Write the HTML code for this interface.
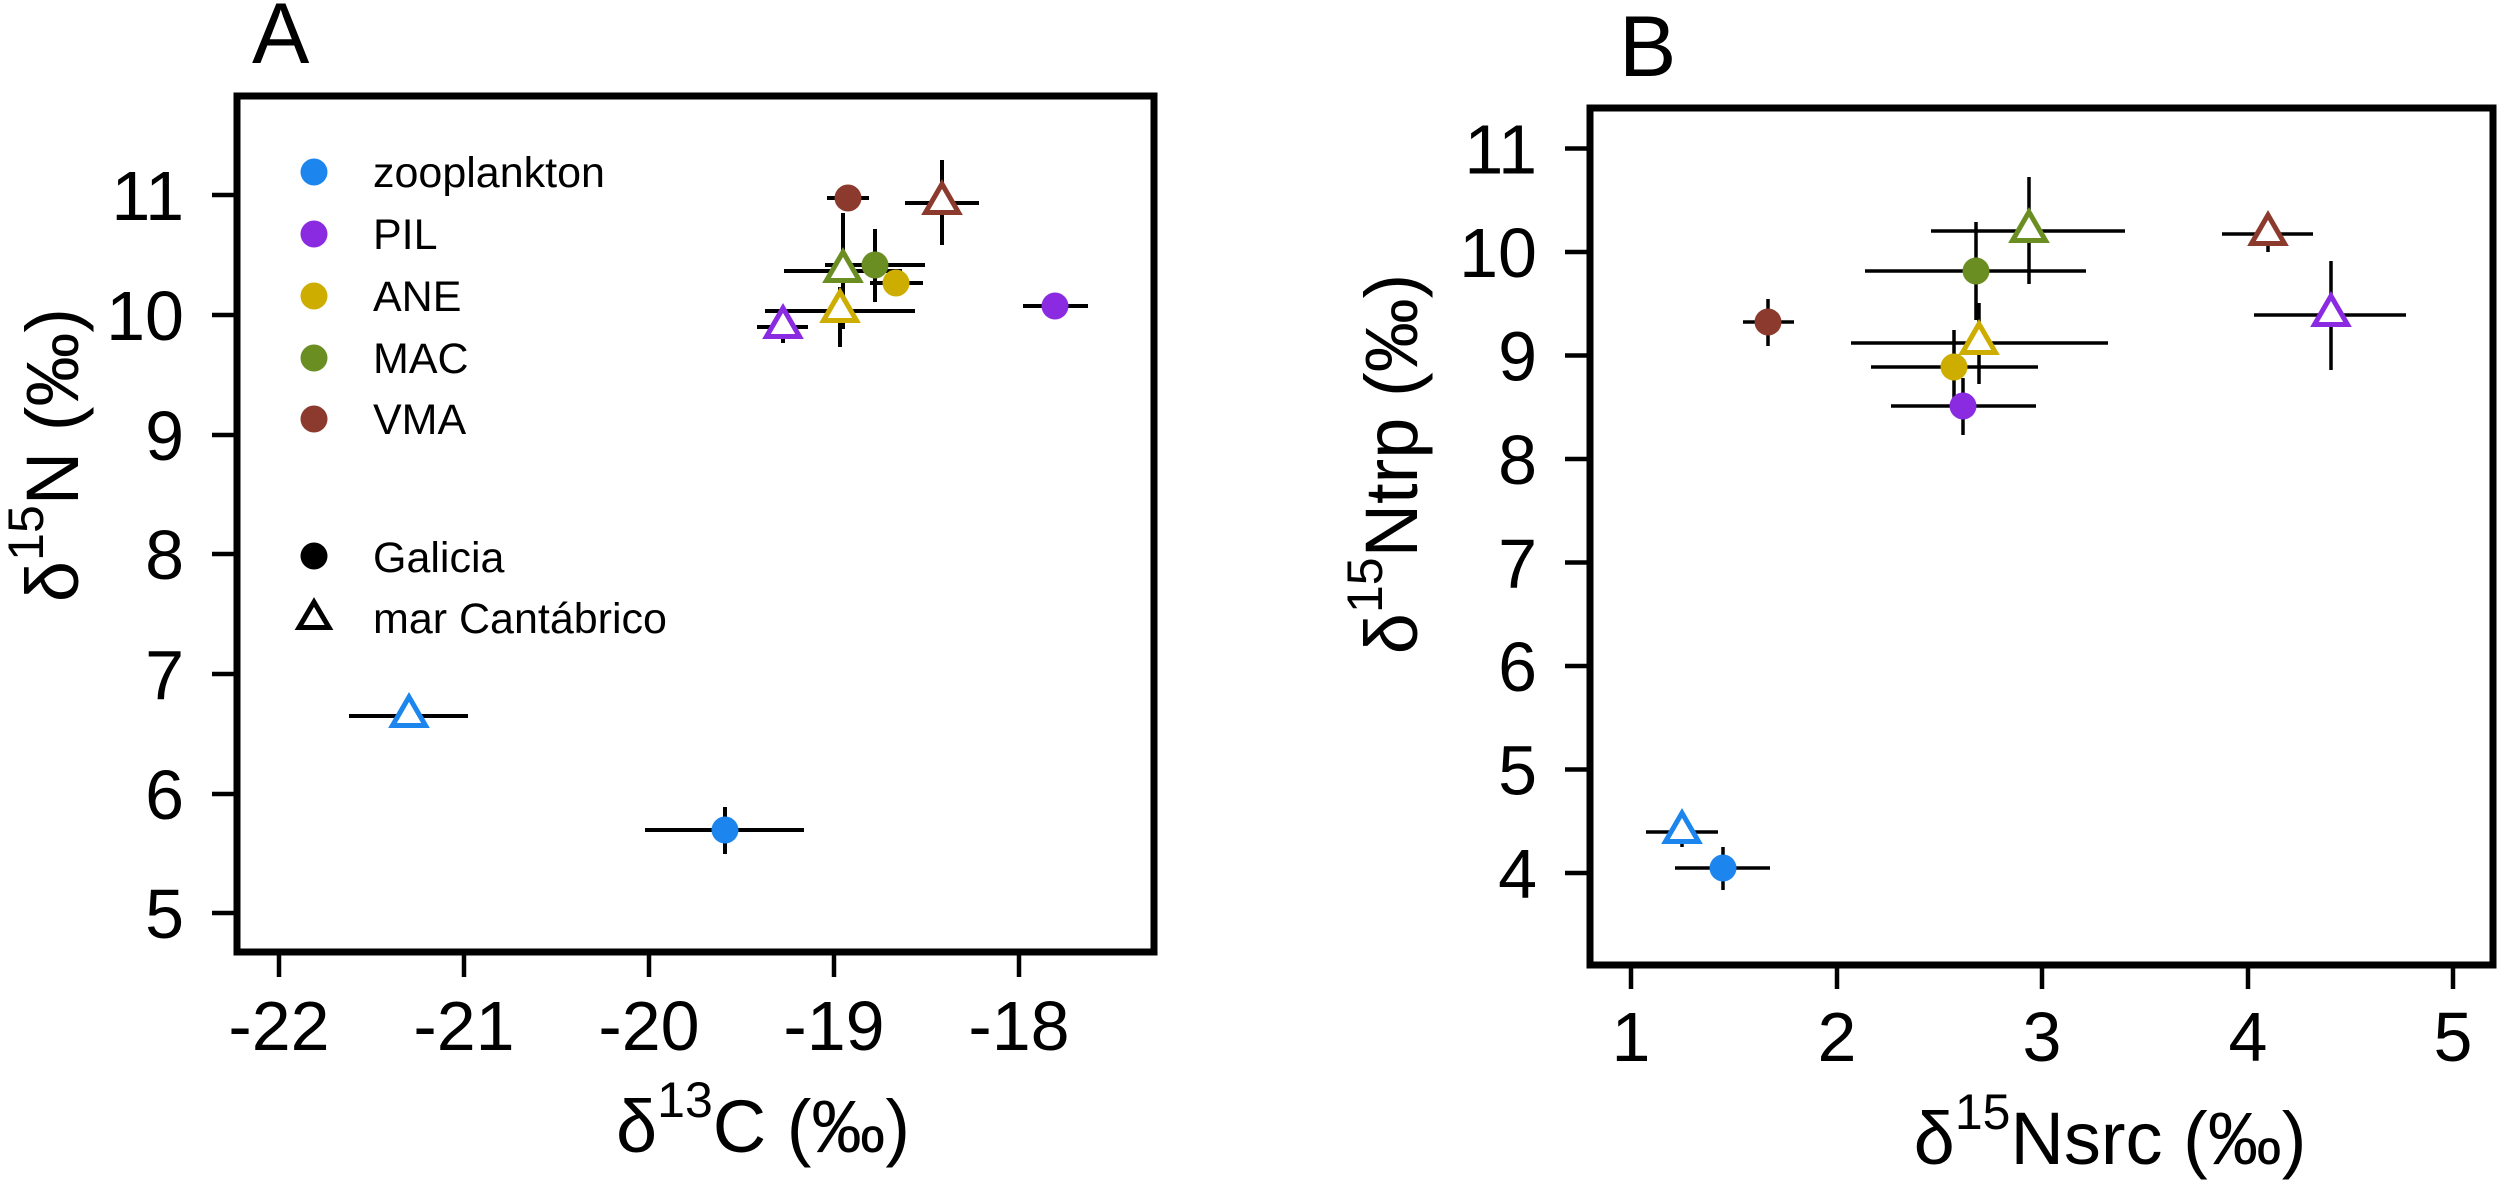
<!DOCTYPE html>
<html>
<head>
<meta charset="utf-8">
<style>
html,body{margin:0;padding:0;background:#fff;}
svg{display:block;}
text{font-family:"Liberation Sans",Arial,sans-serif;fill:#000;}
</style>
</head>
<body>
<svg width="2500" height="1182" viewBox="0 0 2500 1182" xmlns="http://www.w3.org/2000/svg">
<rect width="2500" height="1182" fill="#fff"/>

<!-- ================= PANEL A ================= -->
<text x="252" y="63" font-size="86">A</text>

<!-- ticks A -->
<g stroke="#000" stroke-width="4.5" fill="none">
  <line x1="279" y1="952" x2="279" y2="977"/>
  <line x1="464" y1="952" x2="464" y2="977"/>
  <line x1="649" y1="952" x2="649" y2="977"/>
  <line x1="834" y1="952" x2="834" y2="977"/>
  <line x1="1019" y1="952" x2="1019" y2="977"/>
  <line x1="212" y1="195" x2="237" y2="195"/>
  <line x1="212" y1="315" x2="237" y2="315"/>
  <line x1="212" y1="435" x2="237" y2="435"/>
  <line x1="212" y1="554" x2="237" y2="554"/>
  <line x1="212" y1="674" x2="237" y2="674"/>
  <line x1="212" y1="794" x2="237" y2="794"/>
  <line x1="212" y1="913" x2="237" y2="913"/>
</g>
<g font-size="70" text-anchor="middle">
  <text x="279" y="1050">-22</text>
  <text x="464" y="1050">-21</text>
  <text x="649" y="1050">-20</text>
  <text x="834" y="1050">-19</text>
  <text x="1019" y="1050">-18</text>
</g>
<g font-size="70" text-anchor="end">
  <text x="184" y="220">11</text>
  <text x="184" y="340">10</text>
  <text x="184" y="460">9</text>
  <text x="184" y="579">8</text>
  <text x="184" y="699">7</text>
  <text x="184" y="819">6</text>
  <text x="184" y="938">5</text>
</g>

<!-- axis labels A -->
<text x="763" y="1152" font-size="74" text-anchor="middle">δ<tspan font-size="50" dy="-35">13</tspan><tspan dy="35">C (‰)</tspan></text>
<text transform="translate(78,455) rotate(-90)" font-size="74" text-anchor="middle">δ<tspan font-size="50" dy="-35">15</tspan><tspan dy="35">N (‰)</tspan></text>

<!-- legend A -->
<g>
  <circle cx="314" cy="172" r="13.5" fill="#1C86EE"/>
  <circle cx="314" cy="234" r="13.5" fill="#8A2BE2"/>
  <circle cx="314" cy="296" r="13.5" fill="#CDAD00"/>
  <circle cx="314" cy="358" r="13.5" fill="#6B8E23"/>
  <circle cx="314" cy="419" r="13.5" fill="#8B3A2D"/>
  <circle cx="314" cy="556" r="13.5" fill="#000"/>
  <polygon points="314,602 329,627.5 299,627.5" fill="#fff" stroke="#000" stroke-width="5"/>
</g>
<g font-size="43">
  <text x="373" y="187">zooplankton</text>
  <text x="373" y="249">PIL</text>
  <text x="373" y="311">ANE</text>
  <text x="373" y="373">MAC</text>
  <text x="373" y="434">VMA</text>
  <text x="373" y="572">Galicia</text>
  <text x="373" y="633">mar Cantábrico</text>
</g>

<!-- error bars A -->
<g stroke="#000" stroke-width="4" fill="none">
  <!-- zoo Gal -->
  <line x1="645" y1="830" x2="804" y2="830"/><line x1="725" y1="807" x2="725" y2="854"/>
  <!-- zoo Cant -->
  <line x1="349" y1="716" x2="468" y2="716"/>
  <!-- PIL Gal -->
  <line x1="1023" y1="306" x2="1088" y2="306"/>
  <!-- PIL Cant -->
  <line x1="757" y1="327" x2="808" y2="327"/><line x1="783" y1="311" x2="783" y2="343"/>
  <!-- ANE Gal -->
  <line x1="870" y1="283" x2="923" y2="283"/>
  <!-- ANE Cant -->
  <line x1="765" y1="311" x2="915" y2="311"/><line x1="840" y1="287" x2="840" y2="347"/>
  <!-- MAC Gal -->
  <line x1="825" y1="265" x2="925" y2="265"/><line x1="875" y1="229" x2="875" y2="302"/>
  <!-- MAC Cant -->
  <line x1="784" y1="271" x2="902" y2="271"/><line x1="843" y1="213" x2="843" y2="329"/>
  <!-- VMA Gal -->
  <line x1="827" y1="198" x2="869" y2="198"/>
  <!-- VMA Cant -->
  <line x1="905" y1="203" x2="979" y2="203"/><line x1="942" y1="160" x2="942" y2="245"/>
</g>

<!-- points A -->
<g stroke-width="5" fill="#fff" stroke-linejoin="miter">
  <polygon points="409,697 425.5,725.5 392.5,725.5" stroke="#1C86EE"/>
  <polygon points="783,308 799.5,336.5 766.5,336.5" stroke="#8A2BE2"/>
  <polygon points="840,292 856.5,320.5 823.5,320.5" stroke="#CDAD00"/>
  <polygon points="843,252 859.5,280.5 826.5,280.5" stroke="#6B8E23"/>
  <polygon points="942,184 958.5,212.5 925.5,212.5" stroke="#8B3A2D"/>
</g>
<g>
  <circle cx="725" cy="830" r="13.5" fill="#1C86EE"/>
  <circle cx="1055" cy="306" r="13.5" fill="#8A2BE2"/>
  <circle cx="896" cy="283" r="13.5" fill="#CDAD00"/>
  <circle cx="875" cy="265" r="13.5" fill="#6B8E23"/>
  <circle cx="848" cy="198" r="13.5" fill="#8B3A2D"/>
</g>

<!-- box A -->
<rect x="237" y="96" width="917" height="856" fill="none" stroke="#000" stroke-width="7" stroke-linejoin="miter"/>

<!-- ================= PANEL B ================= -->
<text x="1619" y="76" font-size="86">B</text>

<g stroke="#000" stroke-width="4.5" fill="none">
  <line x1="1631" y1="965" x2="1631" y2="989"/>
  <line x1="1837" y1="965" x2="1837" y2="989"/>
  <line x1="2042" y1="965" x2="2042" y2="989"/>
  <line x1="2248" y1="965" x2="2248" y2="989"/>
  <line x1="2453" y1="965" x2="2453" y2="989"/>
  <line x1="1565" y1="148.5" x2="1590" y2="148.5"/>
  <line x1="1565" y1="252" x2="1590" y2="252"/>
  <line x1="1565" y1="355.5" x2="1590" y2="355.5"/>
  <line x1="1565" y1="459" x2="1590" y2="459"/>
  <line x1="1565" y1="562.5" x2="1590" y2="562.5"/>
  <line x1="1565" y1="666" x2="1590" y2="666"/>
  <line x1="1565" y1="769.5" x2="1590" y2="769.5"/>
  <line x1="1565" y1="873" x2="1590" y2="873"/>
</g>
<g font-size="70" text-anchor="middle">
  <text x="1631" y="1061">1</text>
  <text x="1837" y="1061">2</text>
  <text x="2042" y="1061">3</text>
  <text x="2248" y="1061">4</text>
  <text x="2453" y="1061">5</text>
</g>
<g font-size="70" text-anchor="end">
  <text x="1537" y="173.5">11</text>
  <text x="1537" y="277">10</text>
  <text x="1537" y="380.5">9</text>
  <text x="1537" y="484">8</text>
  <text x="1537" y="587.5">7</text>
  <text x="1537" y="691">6</text>
  <text x="1537" y="794.5">5</text>
  <text x="1537" y="898">4</text>
</g>

<text x="2110" y="1164" font-size="74" text-anchor="middle">δ<tspan font-size="50" dy="-35">15</tspan><tspan dy="35">Nsrc (‰)</tspan></text>
<text transform="translate(1417,464) rotate(-90)" font-size="74" text-anchor="middle">δ<tspan font-size="50" dy="-35">15</tspan><tspan dy="35">Ntrp (‰)</tspan></text>

<!-- error bars B -->
<g stroke="#000" stroke-width="3.5" fill="none">
  <line x1="1743" y1="322" x2="1794" y2="322"/><line x1="1768" y1="299" x2="1768" y2="346"/>
  <line x1="1865" y1="271" x2="2086" y2="271"/><line x1="1976" y1="222" x2="1976" y2="320"/>
  <line x1="1931" y1="231" x2="2125" y2="231"/><line x1="2029" y1="177" x2="2029" y2="284"/>
  <line x1="2222" y1="234" x2="2313" y2="234"/><line x1="2268" y1="216" x2="2268" y2="252"/>
  <line x1="2254" y1="315" x2="2406" y2="315"/><line x1="2331" y1="261" x2="2331" y2="370"/>
  <line x1="1851" y1="343" x2="2108" y2="343"/><line x1="1979" y1="303" x2="1979" y2="384"/>
  <line x1="1871" y1="367" x2="2038" y2="367"/><line x1="1954" y1="330" x2="1954" y2="404"/>
  <line x1="1891" y1="406" x2="2036" y2="406"/><line x1="1963" y1="378" x2="1963" y2="435"/>
  <line x1="1646" y1="832" x2="1718" y2="832"/><line x1="1682" y1="817" x2="1682" y2="847"/>
  <line x1="1675" y1="868" x2="1770" y2="868"/><line x1="1723" y1="847" x2="1723" y2="890"/>
</g>

<!-- points B -->
<g stroke-width="5" fill="#fff" stroke-linejoin="miter">
  <polygon points="2029,212 2045.5,240.5 2012.5,240.5" stroke="#6B8E23"/>
  <polygon points="2268,215 2284.5,243.5 2251.5,243.5" stroke="#8B3A2D"/>
  <polygon points="2331,296 2347.5,324.5 2314.5,324.5" stroke="#8A2BE2"/>
  <polygon points="1979,324 1995.5,352.5 1962.5,352.5" stroke="#CDAD00"/>
  <polygon points="1682,813 1698.5,841.5 1665.5,841.5" stroke="#1C86EE"/>
</g>
<g>
  <circle cx="1768" cy="322" r="13.5" fill="#8B3A2D"/>
  <circle cx="1976" cy="271" r="13.5" fill="#6B8E23"/>
  <circle cx="1954" cy="367" r="13.5" fill="#CDAD00"/>
  <circle cx="1963" cy="406" r="13.5" fill="#8A2BE2"/>
  <circle cx="1723" cy="868" r="13.5" fill="#1C86EE"/>
</g>

<!-- box B -->
<rect x="1590" y="108" width="903" height="857" fill="none" stroke="#000" stroke-width="7" stroke-linejoin="miter"/>
</svg>
</body>
</html>
